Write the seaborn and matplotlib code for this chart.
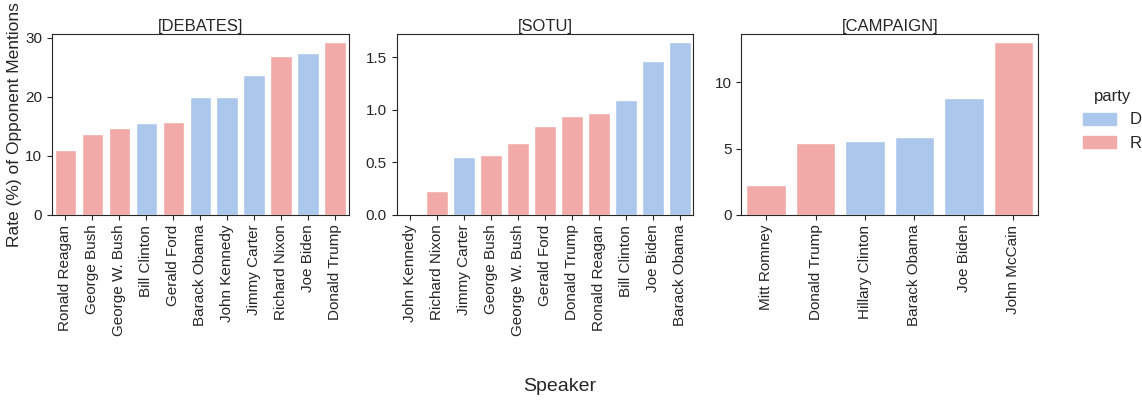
import matplotlib
matplotlib.use("Agg")
import matplotlib.pyplot as plt
import matplotlib.patches as mpatches
import pandas as pd
import seaborn as sns

sns.set_style("ticks")
plt.rcParams['font.family'] = ['Liberation Sans', 'DejaVu Sans']

# values, one list per panel (already sorted)
debates_speakers = ["Ronald Reagan", "George Bush", "George W. Bush", "Bill Clinton",
                    "Gerald Ford", "Barack Obama", "John Kennedy", "Jimmy Carter",
                    "Richard Nixon", "Joe Biden", "Donald Trump"]
debates_party = ["R", "R", "R", "D", "R", "D", "D", "D", "R", "D", "R"]
debates_rate = [11.0, 13.7, 14.7, 15.5, 15.8, 19.9, 20.0, 23.7, 26.8, 27.4, 29.2]

sotu_speakers = ["John Kennedy", "Richard Nixon", "Jimmy Carter", "George Bush",
                 "George W. Bush", "Gerald Ford", "Donald Trump", "Ronald Reagan",
                 "Bill Clinton", "Joe Biden", "Barack Obama"]
sotu_party = ["D", "R", "D", "R", "R", "R", "R", "R", "D", "D", "D"]
sotu_rate = [0.0, 0.23, 0.55, 0.573, 0.685, 0.85, 0.946, 0.971, 1.098, 1.461, 1.643]

campaign_speakers = ["Mitt Romney", "Donald Trump", "Hillary Clinton", "Barack Obama",
                     "Joe Biden", "John McCain"]
campaign_party = ["R", "R", "D", "D", "D", "R"]
campaign_rate = [2.22, 5.42, 5.59, 5.9, 8.77, 13.0]

panels = [("DEBATES", debates_speakers, debates_party, debates_rate),
          ("SOTU", sotu_speakers, sotu_party, sotu_rate),
          ("CAMPAIGN", campaign_speakers, campaign_party, campaign_rate)]

palette = {"D": "#abc8ec", "R": "#f2aaa9"}

fig, axes = plt.subplots(1, 3, figsize=(11.42, 4.0), dpi=100)
plt.subplots_adjust(left=0.0455, right=0.909, top=0.916, bottom=0.4625, wspace=0.162)

for ax, (name, speakers, party, rate) in zip(axes, panels):
    df = pd.DataFrame({"speaker": speakers, "party": party, "rate": rate})
    sns.barplot(data=df, x="speaker", y="rate", hue="party", palette=palette,
                hue_order=["D", "R"], order=speakers, dodge=False, saturation=1,
                width=0.8, legend=False, ax=ax)
    ax.set_title(f"[{name}]", fontsize=12, pad=2)
    ax.set_xlabel("")
    ax.set_ylabel("")
    ax.tick_params(axis="x", labelrotation=90, labelsize=11)
    ax.tick_params(axis="y", labelsize=11)
    ax.set_ylim(0, max(rate) * 1.05)

axes[0].set_ylabel("Rate (%) of Opponent Mentions", fontsize=12.5, labelpad=2)
fig.supxlabel("Speaker", fontsize=14, x=0.49, y=0.012)

handles = [mpatches.Patch(color=palette[p], label=p) for p in ["D", "R"]]
leg = fig.legend(handles=handles, title="party", loc="center left",
                 bbox_to_anchor=(0.935, 0.7), frameon=False, fontsize=12,
                 title_fontsize=12)

plt.savefig("out.png", dpi=100)
